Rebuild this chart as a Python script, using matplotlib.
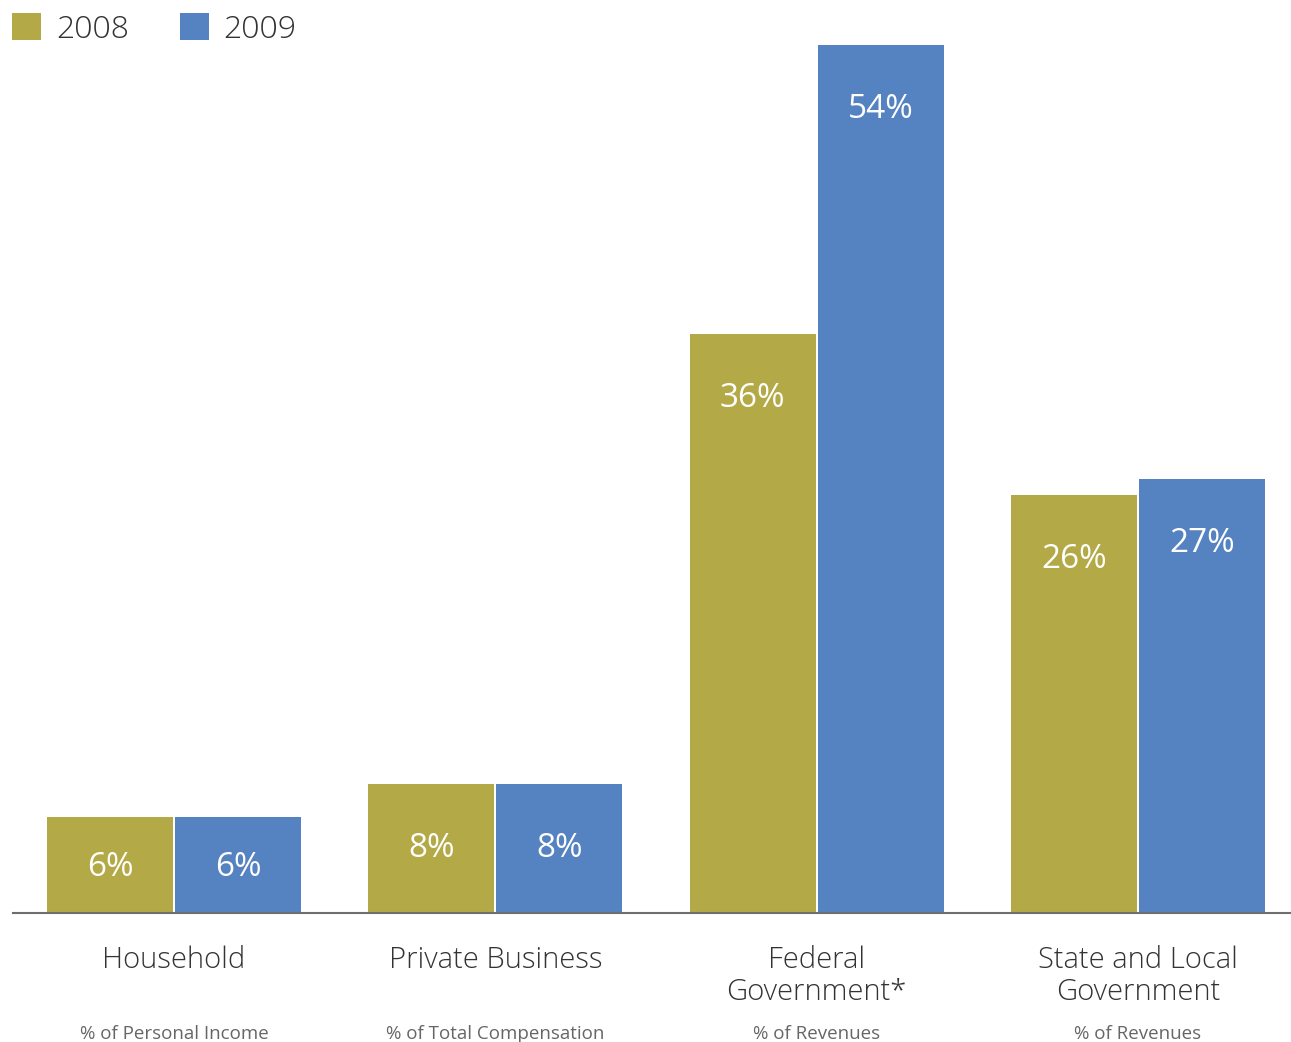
import matplotlib
matplotlib.use("Agg")
import matplotlib.pyplot as plt
import numpy as np

plt.rcParams['font.family'] = ['Open Sans', 'DejaVu Sans']

categories = ["Household", "Private Business", "Federal\nGovernment*", "State and Local\nGovernment"]
subtitles = ["% of Personal Income", "% of Total Compensation", "% of Revenues", "% of Revenues"]
series_names = ["2008", "2009"]
values_2008 = [6, 8, 36, 26]
values_2009 = [6, 8, 54, 27]

colors = ["#B3AA47", "#5582C1"]

W, H = 1291, 1042
fig = plt.figure(figsize=(W / 100, H / 100), dpi=100)

# axes span from the baseline (y=913 px) up to the tallest bar top
left_px, right_px = 13, 1291
base_px, top_px = 913, 45
ax = fig.add_axes([left_px / W, (H - base_px) / H, (right_px - left_px) / W, (base_px - top_px) / H])

x = np.arange(len(categories))
spacing_px = 321.3
bar_w = 126 / spacing_px
offset = 64 / spacing_px

bars_a = ax.bar(x - offset, values_2008, width=bar_w, color=colors[0], label=series_names[0])
bars_b = ax.bar(x + offset, values_2009, width=bar_w, color=colors[1], label=series_names[1])

ax.set_xlim(-(174 - left_px) / spacing_px, 3 + (right_px - 1138) / spacing_px)
ax.set_ylim(0, 54)

for s in ["top", "right", "left"]:
    ax.spines[s].set_visible(False)
ax.spines["bottom"].set_color("#6e6e6e")
ax.spines["bottom"].set_linewidth(1.5)
ax.set_xticks([])
ax.set_yticks([])

# value labels inside the bars
label_drop = 61 / ((base_px - top_px) / 54)
for bars, vals in ((bars_a, values_2008), (bars_b, values_2009)):
    for rect, v in zip(bars, vals):
        y = max(v - label_drop, v / 2)
        ax.annotate(f"{v}%", xy=(rect.get_x() + rect.get_width() / 2, y),
                    xytext=(0, -3), textcoords="offset pixels", ha="center", va="center",
                    color="white", fontsize=24)

# category names and units under the baseline
for i, (cat, sub) in enumerate(zip(categories, subtitles)):
    ax.annotate(cat, xy=(i, 0), xycoords=("data", "axes fraction"),
                xytext=(0, -32), textcoords="offset pixels", ha="center", va="top",
                fontsize=21, fontweight="light", color="#333333", linespacing=1.13)
    ax.annotate(sub, xy=(i, 0), xycoords=("data", "axes fraction"),
                xytext=(0, -121), textcoords="offset pixels", ha="center", va="center",
                fontsize=13.5, color="#666666")

leg = ax.legend(loc="center left", bbox_to_anchor=(12 / W, 1 - 29.5 / H), bbox_transform=fig.transFigure,
                ncol=2, frameon=False, fontsize=23, handlelength=0.92, handleheight=0.92,
                handletextpad=0.45, columnspacing=1.6, borderpad=0, borderaxespad=0)
for t in leg.get_texts():
    t.set_color("#333333")
    t.set_fontweight("light")

fig.savefig("out.png", dpi=100, facecolor="white")
